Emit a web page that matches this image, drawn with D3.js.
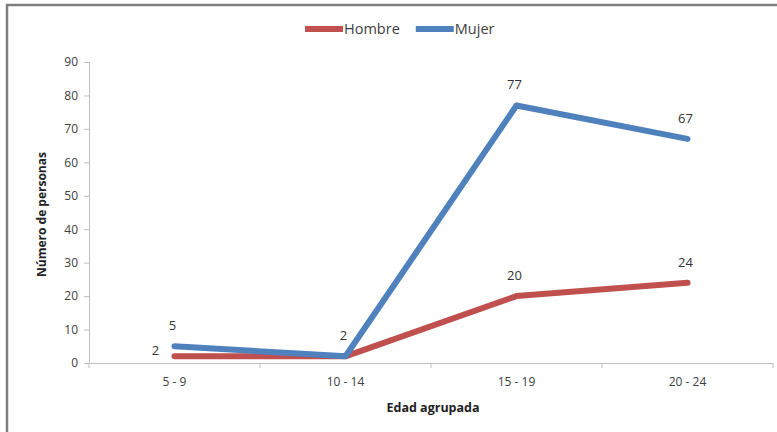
<!DOCTYPE html>
<html>
<head>
<meta charset="utf-8">
<script src="https://cdn.jsdelivr.net/npm/d3@7"></script>
<style>
  body { margin: 0; background: #fff; }
  text { font-family: "Open Sans", sans-serif; }
</style>
</head>
<body>
<div id="chart"></div>
<script>
var categories = ["5 - 9", "10 - 14", "15 - 19", "20 - 24"];
var hombre = [2, 2, 20, 24];
var mujer = [5, 2, 77, 67];
var yTicks = [0, 10, 20, 30, 40, 50, 60, 70, 80, 90];

var series = [
  {name: "Hombre", values: hombre, color: "#C0504D"},
  {name: "Mujer", values: mujer, color: "#4F81BD"}
];

var width = 777, height = 432;
var margin = {top: 62, right: 4, bottom: 69, left: 89};

var svg = d3.select("#chart").append("svg")
  .attr("width", width)
  .attr("height", height);

// outer frame (only top/left visible in the crop)
svg.append("rect")
  .attr("x", 7).attr("y", 5)
  .attr("width", width + 20).attr("height", height + 20)
  .attr("fill", "none")
  .attr("stroke", "#7f7f7f")
  .attr("stroke-width", 2.5);

var x = d3.scaleBand()
  .domain(categories)
  .range([margin.left, width - margin.right]);

var y = d3.scaleLinear()
  .domain([0, 90])
  .range([height - margin.bottom, margin.top]);

// y axis
var yAxis = svg.append("g")
  .attr("transform", "translate(" + margin.left + ",0)")
  .call(d3.axisLeft(y).tickValues(yTicks).tickSize(5).tickPadding(6));
yAxis.select(".domain").attr("stroke", "#bfbfbf");
yAxis.selectAll(".tick line").attr("stroke", "#bfbfbf");
yAxis.selectAll("text")
  .attr("fill", "#404040")
  .style("font-size", "12px");

// x axis
var xAxis = svg.append("g")
  .attr("transform", "translate(0," + y(0) + ")")
  .call(d3.axisBottom(x).tickSize(0).tickPadding(14));
xAxis.select(".domain").attr("stroke", "#bfbfbf");
xAxis.selectAll("text")
  .attr("fill", "#404040")
  .style("font-size", "12px");

// tick marks on band boundaries
var bounds = categories.map(function(c) { return x(c); }).concat([x.range()[1]]);
svg.append("g").selectAll("line")
  .data(bounds)
  .enter().append("line")
  .attr("x1", function(d) { return d; })
  .attr("x2", function(d) { return d; })
  .attr("y1", y(0))
  .attr("y2", y(0) + 5)
  .attr("stroke", "#bfbfbf");

// axis titles
svg.append("text")
  .attr("transform", "translate(46," + (y(45) + 2) + ") rotate(-90)")
  .attr("text-anchor", "middle")
  .style("font-size", "12px")
  .style("font-weight", "bold")
  .attr("fill", "#222")
  .text("Número de personas");

svg.append("text")
  .attr("x", 433)
  .attr("y", 412)
  .attr("text-anchor", "middle")
  .style("font-size", "12.5px")
  .style("font-weight", "bold")
  .attr("fill", "#222")
  .text("Edad agrupada");

// lines
var line = d3.line()
  .x(function(d, i) { return x(categories[i]) + x.bandwidth() / 2; })
  .y(function(d) { return y(d); });

svg.selectAll(".serie")
  .data(series)
  .enter().append("path")
  .attr("class", "serie")
  .attr("d", function(s) { return line(s.values); })
  .attr("fill", "none")
  .attr("stroke", function(s) { return s.color; })
  .attr("stroke-width", 6)
  .attr("stroke-linejoin", "round")
  .attr("stroke-linecap", "round");

// data labels
series.forEach(function(s) {
  svg.append("g").selectAll("text")
    .data(s.values)
    .enter().append("text")
    .attr("x", function(d, i) {
      var cx = x(categories[i]) + x.bandwidth() / 2;
      // first Hombre label sits left of the point, the rest above
      return (s.name == "Hombre" && i == 0) ? cx - 19 : cx - 2;
    })
    .attr("y", function(d, i) {
      return (s.name == "Hombre" && i == 0) ? y(d) - 1 : y(d) - 16;
    })
    .attr("text-anchor", "middle")
    .style("font-size", "13px")
    .attr("fill", "#333")
    .text(function(d, i) {
      // hide hombre label where it would sit on top of the mujer one
      if (s.name == "Hombre" && i > 0 && d == mujer[i]) return "";
      return d;
    });
});

// legend
var legend = svg.append("g").attr("transform", "translate(305,29)");
var lx = 0;
series.forEach(function(s) {
  var item = legend.append("g").attr("transform", "translate(" + lx + ",0)");
  item.append("line")
    .attr("x1", 0).attr("x2", 38)
    .attr("y1", 0).attr("y2", 0)
    .attr("stroke", s.color)
    .attr("stroke-width", 6);
  var t = item.append("text")
    .attr("x", 39)
    .attr("y", 5)
    .style("font-size", "14.5px")
    .attr("fill", "#404040")
    .text(s.name);
  lx += 39 + t.node().getComputedTextLength() + 16;
});
</script>
</body>
</html>
